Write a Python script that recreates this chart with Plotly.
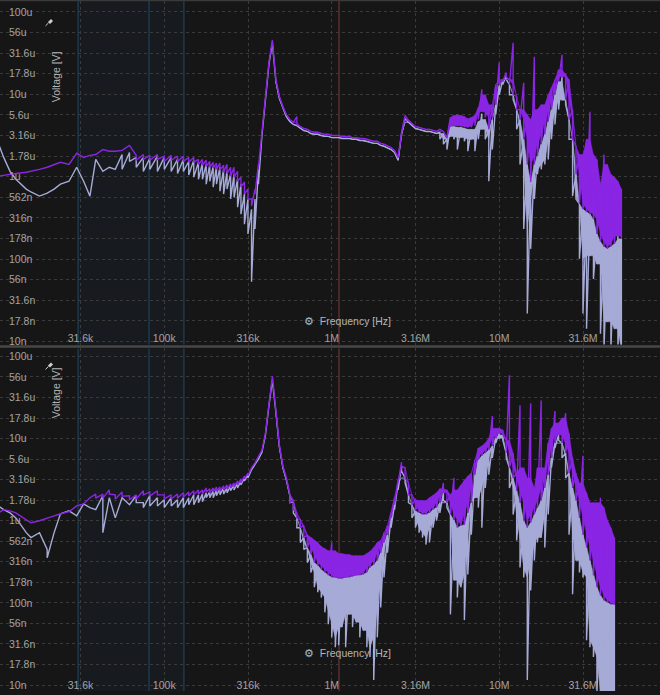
import plotly.graph_objects as go

# Sweep bins (kHz)
FREQ_KHZ = [
    10, 11, 12, 13, 15, 16, 18, 20, 22, 24, 27, 30, 33, 36, 39, 43, 47, 51, 56, 62,
    68, 75, 82, 91, 100, 110, 120, 130, 140, 150, 160,
    169, 178, 187, 196, 205, 215, 226, 237, 249, 261, 274, 287, 301, 316, 332, 348, 365,
    383, 402, 422, 442, 464, 487, 511, 536, 562, 590, 619, 649, 681, 715, 750, 787, 825,
    866, 909, 953,
    1000, 1050, 1100, 1150, 1210, 1270, 1330, 1400, 1470, 1540, 1620, 1690, 1780, 1870,
    1960, 2050, 2150, 2260, 2370, 2490, 2610, 2740, 2870, 3010, 3160, 3320, 3480, 3650,
    3830, 4020, 4220, 4420, 4640, 4870, 5110, 5360, 5620, 5900, 6190, 6490, 6810, 7150,
    7500, 7870, 8250, 8660, 9090, 9530,
    10000, 10500, 11000, 11500, 12100, 12700, 13300, 14000, 14700, 15400, 16200, 16900,
    17800, 18700, 19600, 20500, 21500, 22600, 23700, 24900, 26100, 27400, 28700, 30100,
    31600, 33200, 34800, 36500, 38300, 40200, 42200, 44200, 46400, 48700, 51100, 53600,
]

# Levels in dBuV, max / min per bin.
# ---- upper plot ----
top_violet_max = [
    0.1, 0.4, 0.6, 0.8, 1.1, 1.3, 1.8, 2.3, 3.0, 3.5, 3.0, 5.7, 4.7, 5.2, 5.4, 6.6, 6.2, 6.2, 6.4, 7.6,
    5.2, 5.4, 5.2, 5.4, 5.0, 5.2, 5.0, 5.0, 4.7, 4.7, 4.2,
    4.2, 4.0, 3.7, 3.5, 3.3, 3.3, 2.8, 3.0, 2.3, 2.3, 1.3, -0.1, -1.3, -3.0, -5.4, -3.0, 3.0,
    10.8, 18.7, 27.9, 33.2, 23.6, 19.5, 17.0, 15.1, 13.9, 13.2, 14.6, 12.2, 11.7, 11.5, 11.0,
    10.8, 10.8, 10.5, 10.3, 10.3,
    10.0, 10.0, 10.0, 9.8, 9.8, 9.8, 9.5, 9.5, 9.3, 9.3, 9.1, 8.8, 8.6, 8.6, 8.1, 7.9, 7.6, 7.1,
    6.4, 4.7, 10.8, 14.9, 13.7, 12.9, 12.2, 12.0, 11.7, 11.5, 11.5, 11.2, 11.0, 11.5, 11.0, 9.5,
    14.4, 14.9, 15.1, 14.9, 14.6, 14.1, 14.4, 14.9, 16.8, 21.2, 19.9, 17.5, 17.5, 22.4,
    27.7, 23.6, 25.3, 23.6, 32.5, 19.5, 16.3, 22.8, 15.1, 13.9, 29.1, 16.3, 17.5, 17.5, 19.9,
    21.6, 23.6, 26.0, 29.6, 24.8, 23.6, 16.3, 7.4, 5.4, 5.4, 9.1, 15.8, 5.4, 4.2, -1.8, 5.4,
    3.0, 0.6, -0.1, -1.1, -3.0,
]
top_violet_min = [
    0.1, 0.4, 0.6, 0.8, 1.1, 1.3, 1.8, 2.3, 3.0, 3.5, 3.0, 5.7, 4.7, 5.2, 5.4, 6.6, 6.2, 6.2, 6.4, 7.6,
    4.0, 4.2, 4.0, 4.2, 3.7, 4.0, 3.7, 3.7, 3.5, 3.5, 3.0,
    2.8, 2.5, 2.3, 2.1, 1.8, 1.6, 1.1, 0.8, 0.1, -0.1, -1.1, -2.5, -4.2, -5.4, -7.1, -4.2, 2.3,
    10.8, 18.7, 27.9, 33.2, 23.6, 19.5, 17.0, 15.1, 13.9, 13.2, 12.7, 12.2, 11.7, 11.5, 11.0,
    10.8, 10.8, 10.5, 10.3, 10.3,
    10.0, 10.0, 10.0, 9.8, 9.8, 9.8, 9.5, 9.5, 9.3, 9.3, 9.1, 8.8, 8.6, 8.6, 8.1, 7.9, 7.6, 7.1,
    6.4, 4.7, 10.8, 14.9, 13.7, 12.9, 12.2, 12.0, 11.7, 11.5, 11.5, 11.2, 11.0, 11.5, 11.0, 9.5,
    12.2, 12.4, 12.4, 12.2, 12.0, 12.0, 12.0, 12.4, 13.9, 15.8, 14.4, 11.5, 14.4, 17.5,
    22.4, 23.1, 24.1, 22.4, 19.9, 16.3, 13.9, 9.1, 3.0, -1.3, 3.0, 5.0, 7.9, 10.3, 13.4,
    16.3, 19.9, 23.1, 24.3, 18.7, 13.9, 9.1, 0.6, -6.6, -7.9, -8.6, -9.1, -10.3, -13.9, -15.8,
    -17.0, -17.5, -17.0, -16.3, -14.4, -15.1,
]
top_grey_max = [
    9.1, 4.7, 1.3, -0.6, -3.0, -3.7, -4.7, -4.0, -3.0, -1.8, -1.1, 2.3, -1.1, -4.7, 4.2, 1.3,
    2.3, 1.8, 5.4, 5.9, 4.7, 4.7, 4.5, 5.0, 4.7, 4.7, 4.2, 4.2, 3.7, 4.0, 3.5,
    3.3, 3.0, 3.0, 2.5, 2.5, 2.3, 1.8, 1.3, 0.6, 0.6, -0.6, -1.8, -4.2, -5.4, -7.9, -5.4, 1.8,
    10.0, 18.2, 27.4, 32.5, 23.1, 19.0, 16.6, 14.6, 13.4, 12.7, 12.4, 11.7, 11.2, 11.0, 10.5,
    10.3, 10.3, 10.0, 9.8, 9.8,
    9.5, 9.5, 9.5, 9.3, 9.3, 9.3, 9.1, 9.1, 8.8, 8.8, 8.6, 8.3, 8.1, 8.1, 7.6, 7.4, 7.1, 6.6,
    5.9, 4.0, 10.3, 14.1, 13.2, 12.4, 11.7, 11.5, 11.2, 11.0, 11.0, 10.8, 10.5, 10.8, 10.5, 9.1,
    12.2, 12.2, 12.0, 12.0, 11.7, 11.5, 11.5, 11.5, 13.4, 15.3, 13.9, 11.5, 13.9, 17.5,
    22.1, 23.6, 24.5, 22.4, 19.9, 16.3, 13.9, 9.1, 3.0, -1.3, 3.0, 5.0, 7.9, 10.3, 13.4,
    16.3, 19.9, 23.1, 24.3, 18.7, 13.9, 9.1, 0.6, -6.6, -7.9, -8.6, -9.1, -10.3, -13.9, -15.8,
    -17.0, -17.5, -17.0, -16.3, -14.4, -15.1,
]
top_grey_min = [
    9.1, 4.7, 1.3, -0.6, -3.0, -3.7, -4.7, -4.0, -3.0, -1.8, -1.1, 2.3, -1.1, -4.7, 4.2, 1.3,
    2.3, 1.8, 1.8, 3.7, 2.3, 1.3, 1.8, 1.3, 1.8, 1.3, 0.8, 1.3, 0.4, -0.1, -0.6,
    -0.6, -1.8, -1.1, -2.5, -1.8, -3.5, -4.2, -3.0, -5.4, -5.0, -7.4, -9.1, -11.5, -13.9, -25.5,
    -12.7, -1.8, 10.0, 18.2, 27.4, 32.5, 23.1, 19.0, 16.6, 14.6, 13.4, 12.7, 12.4, 11.7, 11.2,
    11.0, 10.5, 10.3, 10.3, 10.0, 9.8, 9.8,
    9.5, 9.5, 9.5, 9.3, 9.3, 9.3, 9.1, 9.1, 8.8, 8.8, 8.6, 8.3, 8.1, 8.1, 7.6, 7.4, 7.1, 6.6,
    5.9, 4.0, 10.3, 14.1, 13.2, 12.4, 11.7, 11.5, 11.2, 11.0, 11.0, 10.8, 10.5, 9.1, 7.9, 6.6,
    9.8, 9.1, 6.6, 9.5, 8.6, 6.2, 9.1, 6.2, 9.1, 11.5, 9.1, -1.1, 6.6, 15.1,
    19.9, 22.4, 23.6, 19.9, 18.7, 11.5, 3.0, -12.7, -33.2, -17.5, -5.4, 0.6, 1.8, 3.0, 4.2,
    9.1, 12.7, 16.3, 18.7, 17.5, 9.1, -4.7, -5.4, -19.9, -33.2, -36.9, -19.2, -24.8, -21.2,
    -38.1, -42.0, -35.2, -42.0, -36.9, -42.0, -42.0,
]

# ---- lower plot ----
bottom_violet_max = [
    1.7, 2.7, 2.4, 1.9, 0.2, -0.5, 0.0, 0.7, 1.2, 1.7, 2.2, 3.6, 4.1, 5.6, 6.5, 6.5, 7.5, 6.3,
    7.0, 6.1, 6.3, 7.3, 7.0, 7.3, 6.3, 6.3, 6.5, 6.8, 7.0, 7.3, 7.5,
    7.5, 8.0, 7.8, 8.0, 8.2, 8.2, 8.5, 8.7, 9.0, 9.2, 9.7, 10.2, 10.9, 11.6, 12.9, 14.1, 15.5,
    17.2, 21.3, 28.6, 35.2, 26.9, 18.4, 13.3, 10.4, 6.5, 5.1, 1.9, 0.2, -1.2, -3.4, -4.1,
    -4.8, -5.3, -6.3, -6.8, -7.3,
    -5.3, -7.3, -8.0, -8.0, -8.2, -8.2, -8.5, -8.5, -8.5, -8.5, -8.0, -7.5, -6.5, -5.3, -4.8,
    -2.9, -1.2, 1.9, 5.6, 9.9, 14.3, 12.9, 9.2, 6.3, 5.1, 4.9, 4.9, 4.9, 5.6, 6.1, 6.8, 7.8,
    9.2, 7.5, 6.3, 10.4, 7.5, 8.7, 9.9, 10.9, 11.6, 14.8, 17.7, 18.2, 18.9, 20.1, 25.5, 22.5,
    22.5, 22.1, 19.6, 35.4, 16.5, 11.6, 28.1, 12.9, 10.4, 28.6, 8.0, 12.9, 29.3, 12.9, 18.9,
    22.5, 26.7, 23.8, 25.0, 26.2, 21.3, 15.3, 11.6, 9.2, 15.8, 6.8, 4.4, 4.4, 4.4, 5.6, 3.2,
    0.2, -1.7, -4.1, None, None,
]
bottom_violet_min = [
    1.7, 2.7, 2.4, 1.9, 0.2, -0.5, 0.0, 0.7, 1.2, 1.7, 2.2, 3.6, 4.1, 5.6, 5.5, 5.5, 6.5, 5.3,
    6.0, 5.1, 5.3, 6.3, 6.0, 6.3, 5.3, 5.3, 5.5, 5.8, 6.0, 6.3, 6.5,
    6.5, 7.0, 6.8, 7.0, 7.2, 7.2, 7.5, 7.7, 8.0, 8.2, 8.7, 9.2, 10.2, 11.0, 12.9, 14.1, 15.5,
    17.2, 21.3, 28.6, 35.2, 26.9, 18.4, 13.3, 10.4, 4.4, 2.7, 0.7, -1.7, -4.1, -6.5, -8.2,
    -10.2, -10.9, -11.9, -12.6, -13.3,
    -13.8, -13.8, -14.1, -14.1, -13.8, -13.8, -13.6, -13.3, -13.3, -13.1, -12.6, -11.4, -10.7,
    -9.7, -7.8, -5.3, -3.4, 0.7, 3.9, 9.2, 13.3, 10.4, 6.3, 3.9, 2.4, 1.9, 1.5, 1.5, 1.9, 2.7,
    3.2, 4.4, 6.8, 4.4, 1.5, 0.2, -1.7, -1.2, -1.0, 1.9, 4.4, 11.2, 14.8, 15.8, 16.5, 17.2,
    18.2, 20.1,
    21.3, 20.9, 16.5, 12.9, 10.4, 7.3, 4.4, 0.0, -1.7, -0.5, 1.5, 3.2, 4.9, 8.0, 11.2, 15.3,
    18.9, 20.9, 18.9, 16.5, 11.6, 8.0, 4.9, 0.7, -3.4, -6.5, -9.7, -13.3, -16.2, -18.2, -19.4,
    -19.9, -20.4, -20.4, None, None,
]
bottom_grey_max = [
    3.9, 2.7, 1.9, 0.7, -2.9, -4.1, -2.9, -7.0, -2.9, 1.7, 2.4, 1.2, 4.1, 3.2, 2.7, 6.1, 5.6,
    0.7, 5.6, 3.9, 6.1, 4.4, 6.1, 5.6, 5.1, 5.6, 5.1, 5.6, 5.6, 6.3, 6.3,
    6.5, 6.8, 7.0, 7.3, 7.5, 7.8, 8.0, 8.0, 8.5, 8.7, 9.2, 9.7, 10.4, 11.2, 12.4, 13.6, 15.0,
    16.7, 20.9, 28.1, 34.2, 26.4, 17.9, 12.9, 9.9, 6.1, 4.6, 0.7, -1.7, -4.1, -6.5, -8.2,
    -10.2, -10.9, -11.9, -12.6, -13.3,
    -13.8, -13.8, -14.1, -14.1, -13.8, -13.8, -13.6, -13.3, -13.3, -13.1, -12.6, -11.4, -10.7,
    -9.7, -7.8, -5.3, -3.4, 0.7, 3.9, 9.2, 13.3, 10.4, 6.3, 3.9, 2.4, 1.9, 1.5, 1.5, 1.9, 2.7,
    3.2, 4.4, 6.8, 4.4, 1.5, 0.2, -1.7, -1.2, -1.0, 1.9, 4.4, 11.2, 14.8, 15.8, 16.5, 17.2,
    18.2, 20.1,
    21.3, 20.9, 16.5, 12.9, 10.4, 7.3, 4.4, 0.0, -1.7, -0.5, 1.5, 3.2, 4.9, 8.0, 11.2, 15.3,
    18.9, 20.9, 18.9, 16.5, 11.6, 8.0, 4.9, 0.7, -3.4, -6.5, -9.7, -13.3, -16.2, -18.2, -19.4,
    -19.9, -20.4, -20.4, None, None,
]
bottom_grey_min = [
    3.9, 2.7, 1.9, 0.7, -2.9, -4.1, -2.9, -9.0, -2.9, 1.7, 2.4, 1.2, 4.1, 3.2, 2.7, -2.9, 5.6,
    0.7, 5.6, 3.9, 4.4, 3.2, 3.6, 3.6, 3.2, 3.6, 3.2, 3.2, 3.9, 3.9, 4.4,
    4.6, 5.6, 5.6, 5.6, 6.1, 6.3, 6.5, 6.8, 7.3, 7.5, 8.0, 8.7, 9.7, 10.4, 12.4, 13.6, 15.0,
    16.7, 20.9, 28.1, 34.2, 26.4, 17.9, 12.9, 9.9, 4.4, 1.9, -1.7, -5.3, -7.0, -10.2, -12.6,
    -16.2, -17.4, -18.7, -22.3, -25.2,
    -28.4, -30.8, -30.3, -25.9, -30.8, -22.8, -25.9, -24.7, -28.4, -26.7, -30.8, -33.2, -38.8,
    -28.4, -21.1, -13.8, -7.8, -1.7, 2.7, 7.5, 12.1, 9.2, 4.4, 0.7, -1.7, -2.9, -4.1, -5.8,
    -5.3, -1.7, 0.0, 1.9, 4.9, 3.2, -22.8, -14.5, -18.7, -16.2, -24.2, -13.1, -3.4, 5.6, 3.2,
    -1.7, 8.0, 11.2, 15.3, 18.9,
    20.1, 19.6, 15.3, 8.0, 1.5, -4.8, -11.4, -13.8, -38.8, -17.0, -9.7, -5.3, -4.1, -6.5, 1.5,
    12.9, 17.7, 19.6, 15.3, 10.4, -3.4, -17.9, -9.7, -12.6, -13.8, -29.1, -30.8, -33.2, -42.0,
    -42.0, -42.0, -42.0, -42.0, -42.0, None, None,
]

# Axis labelling
X_TICKS_HZ = [31623, 1e5, 316228, 1e6, 3.1623e6, 1e7, 3.1623e7]
X_TICK_TEXT = ["31.6k", "100k", "316k", "1M", "3.16M", "10M", "31.6M"]
Y_TICK_TEXT = ["100u", "56u", "31.6u", "17.8u", "10u", "5.6u", "3.16u", "1.78u", "1u",
               "562n", "316n", "178n", "100n", "56n", "31.6n", "17.8n", "10n"]
Y_TICKS_V = [10 ** (-4 - k / 4) for k in range(len(Y_TICK_TEXT))]

# Marker positions (Hz)
BAND_MARKERS_HZ = [30.6e3, 81.1e3, 131e3]
CURSOR_HZ = 1.105e6
# Above this frequency the body of the min/max span is shaded
BAND_FROM_KHZ = 450

VIOLET = "#8a25e4"
GREY = "#a6aad6"
BG = "#161616"
TEXT = "#a3a3a3"
FONT = "Liberation Sans, Arial, sans-serif"

series = [FREQ_KHZ, top_violet_max, top_violet_min, top_grey_max, top_grey_min,
          bottom_violet_max, bottom_violet_min, bottom_grey_max, bottom_grey_min]
assert all(len(s) == len(FREQ_KHZ) for s in series)


def dbuv_to_volts(db):
    return None if db is None else 1e-6 * 10 ** (db / 20.0)


def minmax_path(freq_khz, hi, lo):
    """Draw each bin as a stroke from its max to its min (decimated spectrum view)."""
    xs, ys = [], []
    for f, a, b in zip(freq_khz, hi, lo):
        if a is None:
            xs.append(None)
            ys.append(None)
            continue
        xs += [f * 1e3, f * 1e3]
        ys += [dbuv_to_volts(a), dbuv_to_volts(b)]
    return xs, ys


def band_body(hi, lo):
    """Span shared with the neighbouring bins; isolated spikes are left to the strokes."""
    n = len(hi)
    top, bot = [], []
    for i in range(n):
        if hi[i] is None:
            top.append(None)
            bot.append(None)
            continue
        nb = [j for j in (i - 1, i + 1) if 0 <= j < n and hi[j] is not None]
        t = min(hi[i], max(hi[j] for j in nb)) if nb else hi[i]
        b = max([lo[i]] + [lo[j] for j in nb])
        top.append(t)
        bot.append(min(b, t))
    return top, bot


def envelope_polygon(freq_khz, hi, lo, start_khz):
    """Closed outline: upper edge left-to-right, then lower edge back."""
    top, bot = band_body(hi, lo)
    rows = [(f, a, b) for f, a, b in zip(freq_khz, top, bot)
            if a is not None and f >= start_khz]
    xs = [r[0] * 1e3 for r in rows] + [r[0] * 1e3 for r in reversed(rows)]
    ys = [dbuv_to_volts(r[1]) for r in rows] + [dbuv_to_volts(r[2]) for r in reversed(rows)]
    return xs, ys


fig = go.Figure()

for (hi, lo, color, xa, ya) in [
    (top_grey_max, top_grey_min, GREY, "x", "y"),
    (top_violet_max, top_violet_min, VIOLET, "x", "y"),
    (bottom_grey_max, bottom_grey_min, GREY, "x2", "y2"),
    (bottom_violet_max, bottom_violet_min, VIOLET, "x2", "y2"),
]:
    px, py = envelope_polygon(FREQ_KHZ, hi, lo, BAND_FROM_KHZ)
    fig.add_trace(go.Scatter(x=px, y=py, mode="lines", fill="toself", fillcolor=color,
                             xaxis=xa, yaxis=ya, line=dict(color=color, width=0.5),
                             hoverinfo="skip", showlegend=False))
    xs, ys = minmax_path(FREQ_KHZ, hi, lo)
    fig.add_trace(go.Scatter(x=xs, y=ys, mode="lines", xaxis=xa, yaxis=ya,
                             line=dict(color=color, width=1.4), hoverinfo="skip",
                             showlegend=False))

W, H = 660, 695
top_dom = [1 - 346 / H, 1 - 1 / H]
bot_dom = [1 - 694 / H, 1 - 350 / H]

xaxis_common = dict(
    type="log", range=[4.0194, 7.9597], tickvals=X_TICKS_HZ, ticktext=X_TICK_TEXT,
    ticklabelposition="inside", ticks="", showline=False, zeroline=False,
    showgrid=True, gridcolor="#3a3a3a", griddash="dot", gridwidth=1,
    tickfont=dict(family=FONT, size=10.5, color=TEXT), ticklabelstandoff=-3,
    ticklabeloverflow="allow", fixedrange=True,
)
yaxis_common = dict(
    type="log", tickvals=Y_TICKS_V, ticktext=Y_TICK_TEXT,
    ticklabelposition="inside", ticks="", showline=False, zeroline=False,
    showgrid=True, gridcolor="#3a3a3a", griddash="dot", gridwidth=1,
    tickfont=dict(family=FONT, size=10.5, color=TEXT), ticklabelstandoff=6,
    ticklabeloverflow="allow", fixedrange=True,
)

fig.update_layout(
    width=W, height=H,
    margin=dict(l=0, r=0, t=0, b=0),
    paper_bgcolor=BG, plot_bgcolor=BG,
    xaxis=dict(domain=[0, 1], anchor="y", **xaxis_common),
    yaxis=dict(domain=top_dom, anchor="x", range=[-8.036, -3.867], **yaxis_common),
    xaxis2=dict(domain=[0, 1], anchor="y2", **xaxis_common),
    yaxis2=dict(domain=bot_dom, anchor="x2", range=[-8.073, -3.903], **yaxis_common),
)

shapes = []
for xref, dom in (("x", top_dom), ("x2", bot_dom)):
    shapes.append(dict(type="rect", xref=xref, yref="paper", x0=BAND_MARKERS_HZ[0],
                       x1=BAND_MARKERS_HZ[-1], y0=dom[0], y1=dom[1],
                       fillcolor="rgba(40,70,110,0.10)", line=dict(width=0), layer="below"))
    for f in BAND_MARKERS_HZ:
        shapes.append(dict(type="line", xref=xref, yref="paper", x0=f, x1=f,
                           y0=dom[0], y1=dom[1], line=dict(color="#1e3a4e", width=1.5),
                           layer="below"))
    shapes.append(dict(type="line", xref=xref, yref="paper", x0=CURSOR_HZ, x1=CURSOR_HZ,
                       y0=dom[0], y1=dom[1], line=dict(color="#5a3030", width=1.5),
                       layer="below"))

# panel frame lines
shapes.append(dict(type="line", xref="paper", yref="paper", x0=0, x1=1,
                   y0=1 - 348 / H, y1=1 - 348 / H, line=dict(color="#474747", width=2.5)))
shapes.append(dict(type="line", xref="paper", yref="paper", x0=0, x1=1,
                   y0=1 - 0.5 / H, y1=1 - 0.5 / H, line=dict(color="#3a3a3a", width=1.5)))

annotations = []
for y_title, y_pin, y_freq in ((50, 21, 322), (395, 366, 664)):
    annotations.append(dict(xref="paper", yref="paper", x=48 / W, y=1 - y_title / H,
                            text="Voltage [V]", textangle=-90, showarrow=False,
                            font=dict(family=FONT, size=10.5, color="#b4b4b4")))
    # pin glyph
    shapes.append(dict(type="line", xref="paper", yref="paper",
                       x0=45.5 / W, y0=1 - (y_pin + 5) / H, x1=48.5 / W, y1=1 - (y_pin + 2) / H,
                       line=dict(color="#d0d0d0", width=1)))
    shapes.append(dict(type="path", xref="paper", yref="paper",
                       path=(f"M {48 / W},{1 - (y_pin + 1) / H} L {51 / W},{1 - (y_pin - 2) / H} "
                             f"L {53 / W},{1 - y_pin / H} L {50 / W},{1 - (y_pin + 3) / H} Z"),
                       fillcolor="#d0d0d0", line=dict(width=0)))
    annotations.append(dict(xref="paper", yref="paper", x=302 / W, y=1 - y_freq / H,
                            xanchor="left", text="\u2699  Frequency [Hz]", showarrow=False,
                            font=dict(family=FONT, size=10.5, color="#b4b4b4")))

fig.update_layout(shapes=shapes, annotations=annotations)

fig.write_html("out.html")
